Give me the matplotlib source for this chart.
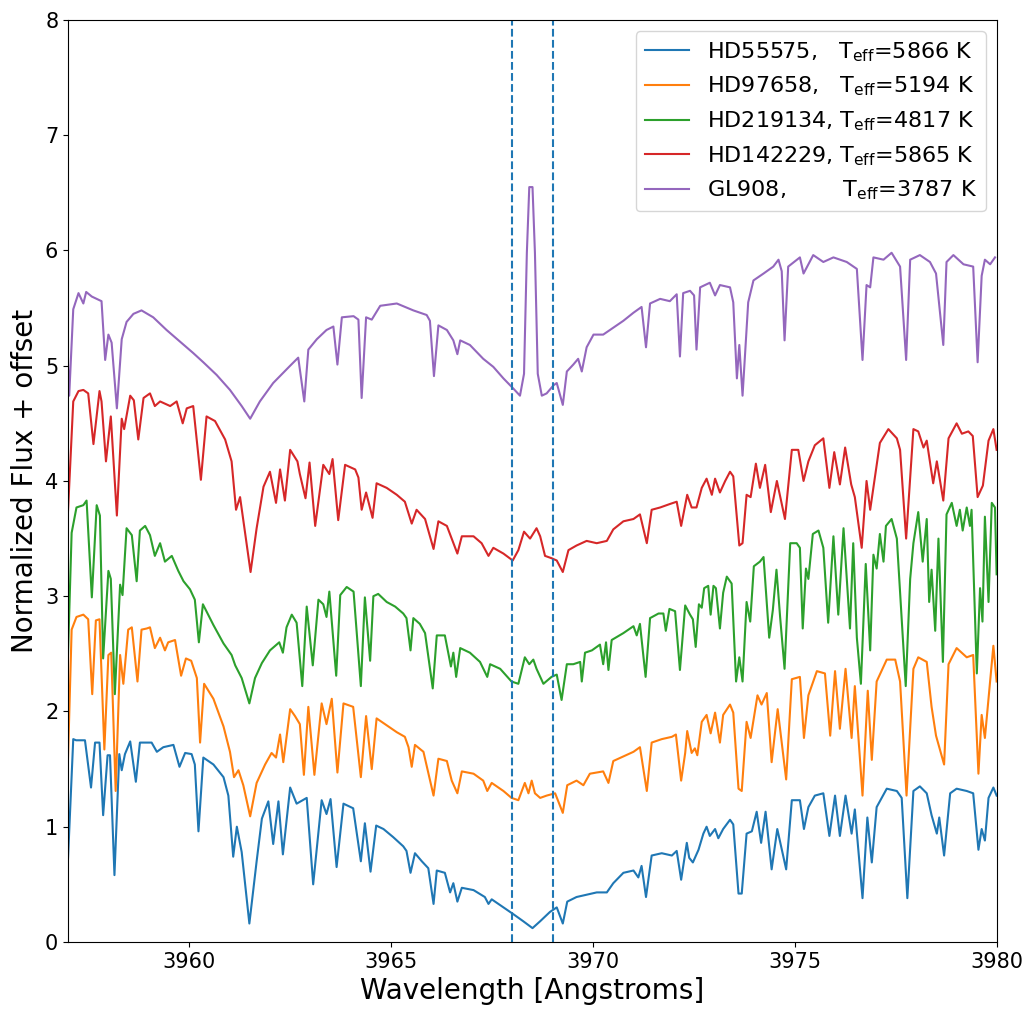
import matplotlib
matplotlib.use('Agg')
import matplotlib.pyplot as plt

# star names, temperatures and spacing used in the legend
stars = ['HD55575', 'HD97658', 'HD219134', 'HD142229', 'GL908']
teff = [5866, 5194, 4817, 5865, 3787]
pads = ['   ', '   ', ' ', ' ', '        ']

# Ca II H line region marked by the two dashed lines
line_marks = [3968.0, 3969.0]

# HD55575 (offset 0)
wl_hd55575 = [3956.98, 3957.13, 3957.2, 3957.42, 3957.57, 3957.67, 3957.78, 3957.87, 3957.98, 3958.04,
              3958.15, 3958.27, 3958.33, 3958.41, 3958.54, 3958.68, 3958.78, 3958.95, 3959.07, 3959.2,
              3959.36, 3959.61, 3959.76, 3959.9, 3960.06, 3960.14, 3960.23, 3960.35, 3960.6, 3960.85,
              3960.97, 3961.09, 3961.18, 3961.3, 3961.49, 3961.67, 3961.8, 3961.96, 3962.08, 3962.21,
              3962.32, 3962.5, 3962.66, 3962.91, 3963.07, 3963.28, 3963.4, 3963.5, 3963.65, 3963.82,
              3964.06, 3964.25, 3964.35, 3964.49, 3964.63, 3964.81, 3965.05, 3965.3, 3965.38, 3965.48,
              3965.59, 3965.76, 3965.92, 3966.05, 3966.13, 3966.33, 3966.46, 3966.54, 3966.64, 3966.75,
              3967.04, 3967.32, 3967.41, 3967.49, 3967.78, 3968.03, 3968.27, 3968.5, 3968.69, 3968.93,
              3969.1, 3969.25, 3969.36, 3969.59, 3969.84, 3970.09, 3970.34, 3970.5, 3970.75, 3971.0,
              3971.12, 3971.2, 3971.31, 3971.45, 3971.7, 3971.95, 3972.07, 3972.18, 3972.32, 3972.38,
              3972.47, 3972.61, 3972.73, 3972.81, 3972.89, 3973.02, 3973.1, 3973.22, 3973.39, 3973.47,
              3973.6, 3973.68, 3973.8, 3973.93, 3974.05, 3974.16, 3974.27, 3974.42, 3974.56, 3974.78,
              3974.92, 3975.12, 3975.22, 3975.33, 3975.49, 3975.7, 3975.85, 3975.99, 3976.11, 3976.25,
              3976.4, 3976.48, 3976.67, 3976.79, 3976.9, 3977.02, 3977.27, 3977.52, 3977.64, 3977.78,
              3977.93, 3978.09, 3978.26, 3978.38, 3978.51, 3978.57, 3978.69, 3978.84, 3979.0, 3979.25,
              3979.41, 3979.54, 3979.62, 3979.7, 3979.79, 3979.91, 3979.99]
fx_hd55575 = [0.56, 1.76, 1.75, 1.75, 1.34, 1.73, 1.73, 1.10, 1.62, 1.62,
              0.58, 1.63, 1.49, 1.63, 1.74, 1.39, 1.73, 1.73, 1.73, 1.65,
              1.69, 1.71, 1.52, 1.64, 1.63, 1.54, 0.96, 1.60, 1.54, 1.43,
              1.27, 0.74, 1.00, 0.78, 0.16, 0.70, 1.07, 1.22, 0.85, 1.22,
              0.76, 1.34, 1.20, 1.25, 0.50, 1.23, 1.11, 1.24, 0.65, 1.20,
              1.16, 0.70, 1.03, 0.61, 1.01, 0.98, 0.91, 0.83, 0.79, 0.60,
              0.77, 0.70, 0.64, 0.33, 0.62, 0.60, 0.43, 0.51, 0.35, 0.47,
              0.45, 0.39, 0.33, 0.37, 0.30, 0.24, 0.18, 0.12, 0.18, 0.26,
              0.30, 0.16, 0.35, 0.39, 0.41, 0.43, 0.43, 0.51, 0.60, 0.62,
              0.56, 0.66, 0.39, 0.75, 0.77, 0.75, 0.79, 0.54, 0.86, 0.73,
              0.69, 0.80, 0.94, 1.00, 0.92, 0.98, 0.90, 0.98, 1.06, 1.02,
              0.42, 0.42, 0.94, 0.96, 1.13, 0.86, 1.13, 0.63, 0.98, 0.63,
              1.23, 1.23, 0.98, 1.17, 1.27, 1.29, 0.92, 1.27, 0.92, 1.27,
              0.94, 1.15, 0.38, 1.08, 0.69, 1.17, 1.33, 1.31, 1.25, 0.38,
              1.31, 1.35, 1.29, 1.10, 0.94, 1.08, 0.75, 1.29, 1.33, 1.31,
              1.29, 0.80, 0.98, 0.88, 1.25, 1.34, 1.27]

# HD97658 (offset 1)
wl_hd97658 = [3956.98, 3957.09, 3957.21, 3957.38, 3957.5, 3957.6, 3957.69, 3957.78, 3957.9, 3958.0,
              3958.07, 3958.18, 3958.29, 3958.37, 3958.49, 3958.58, 3958.72, 3958.82, 3958.95, 3959.03,
              3959.15, 3959.28, 3959.4, 3959.48, 3959.65, 3959.8, 3959.92, 3960.05, 3960.19, 3960.27,
              3960.37, 3960.6, 3960.85, 3961.01, 3961.11, 3961.22, 3961.34, 3961.51, 3961.67, 3961.88,
              3962.04, 3962.15, 3962.25, 3962.33, 3962.5, 3962.62, 3962.74, 3962.84, 3962.95, 3963.1,
              3963.28, 3963.4, 3963.53, 3963.67, 3963.82, 3964.06, 3964.25, 3964.38, 3964.52, 3964.64,
              3964.89, 3965.14, 3965.34, 3965.43, 3965.51, 3965.59, 3965.8, 3966.05, 3966.17, 3966.38,
              3966.5, 3966.64, 3966.75, 3967.04, 3967.28, 3967.38, 3967.49, 3967.78, 3967.98, 3968.15,
              3968.31, 3968.4, 3968.48, 3968.56, 3968.69, 3968.85, 3969.06, 3969.25, 3969.36, 3969.59,
              3969.76, 3969.92, 3970.25, 3970.38, 3970.5, 3970.75, 3971.0, 3971.16, 3971.33, 3971.45,
              3971.7, 3971.95, 3972.05, 3972.18, 3972.28, 3972.33, 3972.44, 3972.52, 3972.58, 3972.69,
              3972.81, 3972.91, 3973.02, 3973.14, 3973.22, 3973.39, 3973.47, 3973.6, 3973.68, 3973.8,
              3973.9, 3974.07, 3974.17, 3974.3, 3974.42, 3974.57, 3974.78, 3974.92, 3975.12, 3975.22,
              3975.33, 3975.54, 3975.74, 3975.87, 3975.99, 3976.11, 3976.25, 3976.4, 3976.48, 3976.67,
              3976.8, 3976.9, 3977.02, 3977.27, 3977.48, 3977.6, 3977.76, 3977.93, 3978.05, 3978.26,
              3978.38, 3978.49, 3978.69, 3978.8, 3979.0, 3979.25, 3979.41, 3979.54, 3979.62, 3979.7,
              3979.91, 3979.99]
fx_hd97658 = [1.34, 2.71, 2.82, 2.84, 2.80, 2.15, 2.79, 2.80, 1.67, 2.49,
              2.51, 1.31, 2.49, 2.24, 2.71, 2.73, 2.26, 2.71, 2.72, 2.73,
              2.55, 2.64, 2.53, 2.60, 2.62, 2.31, 2.46, 2.44, 2.29, 1.73,
              2.24, 2.11, 1.87, 1.65, 1.43, 1.49, 1.36, 1.09, 1.38, 1.54,
              1.64, 1.60, 1.80, 1.56, 2.02, 1.96, 1.89, 1.45, 2.04, 1.45,
              2.07, 1.89, 2.11, 1.47, 2.07, 2.04, 1.43, 1.96, 1.50, 1.94,
              1.88, 1.82, 1.78, 1.69, 1.52, 1.71, 1.65, 1.27, 1.59, 1.57,
              1.40, 1.29, 1.48, 1.46, 1.40, 1.31, 1.38, 1.31, 1.25, 1.23,
              1.38, 1.29, 1.40, 1.29, 1.25, 1.27, 1.29, 1.12, 1.36, 1.40,
              1.36, 1.46, 1.48, 1.38, 1.57, 1.61, 1.65, 1.69, 1.31, 1.73,
              1.76, 1.78, 1.80, 1.40, 1.64, 1.83, 1.64, 1.68, 1.62, 1.91,
              1.97, 1.81, 1.99, 1.73, 1.97, 2.06, 1.99, 1.33, 1.31, 1.91,
              1.77, 2.14, 2.06, 2.16, 1.56, 2.02, 1.41, 2.28, 2.30, 1.77,
              2.14, 2.35, 2.33, 1.79, 2.35, 1.85, 2.37, 1.77, 2.22, 1.27,
              2.18, 1.58, 2.26, 2.45, 2.45, 2.26, 1.27, 2.37, 2.47, 2.43,
              2.04, 1.79, 1.54, 2.41, 2.55, 2.47, 2.49, 1.46, 1.97, 1.77,
              2.57, 2.26]

# HD219134 (offset 2)
wl_hd219134 = [3956.98, 3957.09, 3957.21, 3957.38, 3957.46, 3957.59, 3957.71, 3957.79, 3957.87, 3958.0,
               3958.06, 3958.16, 3958.29, 3958.35, 3958.45, 3958.58, 3958.7, 3958.78, 3958.91, 3959.03,
               3959.15, 3959.28, 3959.4, 3959.57, 3959.73, 3959.86, 3960.02, 3960.14, 3960.24, 3960.34,
               3960.6, 3960.85, 3961.05, 3961.14, 3961.3, 3961.49, 3961.63, 3961.8, 3962.0, 3962.23,
               3962.32, 3962.41, 3962.54, 3962.66, 3962.8, 3962.91, 3963.06, 3963.2, 3963.32, 3963.4,
               3963.47, 3963.64, 3963.74, 3963.9, 3964.07, 3964.25, 3964.35, 3964.48, 3964.56, 3964.68,
               3964.89, 3965.1, 3965.3, 3965.38, 3965.48, 3965.55, 3965.71, 3965.84, 3966.03, 3966.13,
               3966.33, 3966.48, 3966.54, 3966.61, 3966.71, 3966.95, 3967.2, 3967.38, 3967.45, 3967.7,
               3967.98, 3968.15, 3968.31, 3968.42, 3968.52, 3968.6, 3968.77, 3968.97, 3969.1, 3969.22,
               3969.35, 3969.51, 3969.68, 3969.72, 3969.8, 3969.97, 3970.17, 3970.25, 3970.32, 3970.38,
               3970.46, 3970.75, 3971.0, 3971.08, 3971.16, 3971.3, 3971.41, 3971.62, 3971.74, 3971.8,
               3971.89, 3972.03, 3972.15, 3972.28, 3972.4, 3972.47, 3972.54, 3972.62, 3972.69, 3972.75,
               3972.85, 3972.91, 3972.98, 3973.04, 3973.14, 3973.22, 3973.31, 3973.43, 3973.54, 3973.62,
               3973.7, 3973.8, 3973.89, 3973.98, 3974.13, 3974.22, 3974.36, 3974.45, 3974.54, 3974.63,
               3974.74, 3974.88, 3975.04, 3975.12, 3975.19, 3975.27, 3975.33, 3975.44, 3975.58, 3975.7,
               3975.82, 3975.95, 3976.07, 3976.2, 3976.36, 3976.44, 3976.53, 3976.63, 3976.75, 3976.86,
               3976.94, 3977.02, 3977.1, 3977.19, 3977.25, 3977.39, 3977.52, 3977.74, 3977.85, 3977.93,
               3978.05, 3978.16, 3978.26, 3978.32, 3978.38, 3978.47, 3978.55, 3978.66, 3978.75, 3978.88,
               3979.0, 3979.08, 3979.15, 3979.25, 3979.33, 3979.37, 3979.5, 3979.58, 3979.64, 3979.7,
               3979.79, 3979.87, 3979.95, 3979.99]
fx_hd219134 = [2.26, 3.55, 3.77, 3.79, 3.83, 2.99, 3.79, 3.70, 2.46, 3.22,
               3.15, 2.15, 3.10, 3.01, 3.59, 3.53, 3.13, 3.57, 3.61, 3.53,
               3.35, 3.46, 3.30, 3.35, 3.22, 3.13, 3.06, 2.97, 2.60, 2.93,
               2.75, 2.59, 2.49, 2.40, 2.29, 2.07, 2.29, 2.42, 2.53, 2.60,
               2.51, 2.73, 2.84, 2.77, 2.22, 2.91, 2.40, 2.97, 2.93, 2.82,
               3.04, 2.31, 3.01, 3.08, 3.04, 2.22, 2.99, 2.44, 3.00, 3.02,
               2.95, 2.91, 2.85, 2.81, 2.53, 2.81, 2.76, 2.68, 2.20, 2.66,
               2.66, 2.39, 2.51, 2.30, 2.55, 2.51, 2.43, 2.30, 2.41, 2.37,
               2.26, 2.24, 2.47, 2.41, 2.45, 2.37, 2.24, 2.30, 2.32, 2.10,
               2.41, 2.41, 2.43, 2.26, 2.51, 2.53, 2.58, 2.41, 2.60, 2.36,
               2.62, 2.68, 2.74, 2.66, 2.76, 2.30, 2.81, 2.85, 2.85, 2.70,
               2.89, 2.87, 2.36, 2.92, 2.84, 2.80, 2.56, 2.93, 2.90, 3.07,
               3.09, 2.84, 3.09, 3.07, 2.72, 3.03, 3.17, 3.11, 2.26, 2.47,
               2.26, 2.95, 2.78, 3.26, 3.30, 3.34, 2.64, 2.88, 3.23, 2.82,
               2.37, 3.46, 3.46, 3.42, 2.72, 3.24, 3.15, 3.54, 3.57, 3.42,
               2.77, 3.52, 2.84, 3.59, 2.72, 3.46, 2.64, 2.24, 3.28, 2.53,
               3.36, 3.24, 3.54, 3.30, 3.61, 3.67, 3.50, 2.22, 3.15, 3.46,
               3.73, 3.30, 3.67, 2.95, 3.23, 2.70, 3.50, 2.43, 3.71, 3.81,
               3.61, 3.75, 3.57, 3.77, 3.61, 3.75, 2.33, 3.07, 2.78, 3.69,
               2.95, 3.81, 3.77, 3.19]

# HD142229 (offset 3)
wl_hd142229 = [3956.98, 3957.13, 3957.26, 3957.38, 3957.5, 3957.63, 3957.78, 3957.83, 3957.94, 3958.06,
               3958.21, 3958.33, 3958.39, 3958.54, 3958.63, 3958.74, 3958.87, 3959.03, 3959.15, 3959.28,
               3959.53, 3959.69, 3959.84, 3959.94, 3960.1, 3960.29, 3960.43, 3960.64, 3960.89, 3961.05,
               3961.16, 3961.26, 3961.52, 3961.67, 3961.84, 3962.0, 3962.15, 3962.25, 3962.37, 3962.5,
               3962.68, 3962.74, 3962.88, 3962.98, 3963.12, 3963.32, 3963.47, 3963.55, 3963.69, 3963.86,
               3964.11, 3964.19, 3964.27, 3964.38, 3964.54, 3964.64, 3964.89, 3965.14, 3965.34, 3965.51,
               3965.63, 3965.84, 3966.05, 3966.17, 3966.38, 3966.64, 3966.75, 3967.04, 3967.24, 3967.41,
               3967.53, 3967.78, 3968.01, 3968.15, 3968.29, 3968.44, 3968.6, 3968.69, 3968.81, 3968.97,
               3969.1, 3969.25, 3969.39, 3969.59, 3969.84, 3970.09, 3970.34, 3970.5, 3970.75, 3971.0,
               3971.16, 3971.33, 3971.45, 3971.66, 3971.9, 3972.07, 3972.18, 3972.33, 3972.44, 3972.56,
               3972.69, 3972.81, 3972.94, 3973.02, 3973.14, 3973.27, 3973.39, 3973.47, 3973.62, 3973.7,
               3973.8, 3973.9, 3974.03, 3974.13, 3974.26, 3974.4, 3974.55, 3974.75, 3974.92, 3975.08,
               3975.21, 3975.33, 3975.49, 3975.7, 3975.85, 3975.97, 3976.11, 3976.24, 3976.39, 3976.48,
               3976.65, 3976.77, 3976.86, 3976.98, 3977.1, 3977.31, 3977.52, 3977.6, 3977.75, 3977.93,
               3978.05, 3978.18, 3978.26, 3978.42, 3978.51, 3978.67, 3978.8, 3979.0, 3979.13, 3979.29,
               3979.4, 3979.52, 3979.65, 3979.79, 3979.91, 3979.99]
fx_hd142229 = [3.59, 4.69, 4.78, 4.79, 4.76, 4.32, 4.78, 4.69, 4.17, 4.56,
               3.70, 4.54, 4.45, 4.74, 4.70, 4.36, 4.72, 4.76, 4.65, 4.69,
               4.65, 4.69, 4.50, 4.63, 4.65, 4.01, 4.56, 4.52, 4.36, 4.17,
               3.75, 3.86, 3.21, 3.59, 3.95, 4.08, 3.81, 4.10, 3.83, 4.27,
               4.17, 4.06, 3.85, 4.16, 3.61, 4.14, 4.06, 4.19, 3.66, 4.14,
               4.10, 4.03, 3.75, 3.90, 3.68, 3.98, 3.94, 3.88, 3.82, 3.63,
               3.75, 3.67, 3.41, 3.65, 3.61, 3.37, 3.52, 3.52, 3.46, 3.35,
               3.42, 3.37, 3.31, 3.40, 3.56, 3.50, 3.59, 3.52, 3.35, 3.33,
               3.31, 3.21, 3.40, 3.44, 3.48, 3.46, 3.48, 3.58, 3.65, 3.67,
               3.71, 3.46, 3.75, 3.77, 3.80, 3.82, 3.61, 3.88, 3.77, 3.77,
               3.94, 4.02, 3.88, 4.02, 3.90, 4.00, 4.08, 4.04, 3.44, 3.46,
               3.88, 3.86, 4.15, 3.94, 4.14, 3.73, 4.00, 3.67, 4.27, 4.27,
               4.00, 4.17, 4.31, 4.37, 3.94, 4.25, 3.97, 4.29, 3.97, 3.86,
               3.42, 4.00, 3.75, 4.04, 4.33, 4.45, 4.37, 4.27, 3.50, 4.45,
               4.43, 4.29, 4.35, 3.98, 4.17, 3.83, 4.37, 4.50, 4.41, 4.43,
               4.39, 3.86, 3.96, 4.35, 4.45, 4.27]

# GL908 (offset 4), emission core near 3968.5
wl_gl908 = [3956.98, 3957.03, 3957.13, 3957.26, 3957.38, 3957.45, 3957.59, 3957.71, 3957.83, 3957.92,
            3958.0, 3958.08, 3958.21, 3958.33, 3958.45, 3958.62, 3958.82, 3959.11, 3959.44, 3959.77,
            3960.1, 3960.35, 3960.68, 3961.01, 3961.3, 3961.51, 3961.75, 3962.08, 3962.5, 3962.7,
            3962.85, 3962.95, 3963.16, 3963.4, 3963.57, 3963.67, 3963.78, 3964.07, 3964.19, 3964.27,
            3964.38, 3964.52, 3964.73, 3965.14, 3965.55, 3965.88, 3965.96, 3966.06, 3966.17, 3966.38,
            3966.54, 3966.64, 3966.71, 3966.95, 3967.28, 3967.53, 3967.78, 3968.03, 3968.19, 3968.29,
            3968.36, 3968.42, 3968.5, 3968.56, 3968.63, 3968.73, 3968.85, 3969.02, 3969.1, 3969.25,
            3969.35, 3969.51, 3969.63, 3969.72, 3969.84, 3970.01, 3970.25, 3970.5, 3970.75, 3971.0,
            3971.2, 3971.31, 3971.41, 3971.66, 3971.9, 3972.07, 3972.15, 3972.23, 3972.4, 3972.5,
            3972.56, 3972.65, 3972.89, 3973.02, 3973.14, 3973.39, 3973.47, 3973.56, 3973.62, 3973.7,
            3973.84, 3973.97, 3974.22, 3974.46, 3974.59, 3974.67, 3974.74, 3974.83, 3975.12, 3975.21,
            3975.45, 3975.7, 3975.95, 3976.28, 3976.53, 3976.67, 3976.77, 3976.86, 3976.94, 3977.19,
            3977.39, 3977.6, 3977.75, 3977.85, 3978.09, 3978.34, 3978.49, 3978.67, 3978.75, 3978.92,
            3979.17, 3979.41, 3979.52, 3979.62, 3979.7, 3979.83, 3979.95]
fx_gl908 = [5.20, 4.74, 5.49, 5.63, 5.54, 5.64, 5.60, 5.58, 5.56, 5.05,
            5.27, 5.20, 4.63, 5.23, 5.38, 5.45, 5.48, 5.42, 5.31, 5.21,
            5.11, 5.03, 4.92, 4.79, 4.65, 4.54, 4.69, 4.85, 5.00, 5.07,
            4.69, 5.14, 5.23, 5.31, 5.34, 5.01, 5.42, 5.43, 5.40, 4.72,
            5.42, 5.40, 5.52, 5.54, 5.48, 5.44, 5.39, 4.91, 5.35, 5.31,
            5.22, 5.10, 5.22, 5.18, 5.06, 4.99, 4.89, 4.80, 4.74, 4.93,
            5.98, 6.55, 6.55, 5.98, 4.93, 4.74, 4.76, 4.83, 4.85, 4.66,
            4.95, 5.01, 5.06, 4.95, 5.16, 5.27, 5.27, 5.33, 5.39, 5.46,
            5.51, 5.16, 5.54, 5.58, 5.56, 5.62, 5.08, 5.63, 5.65, 5.61,
            5.14, 5.68, 5.72, 5.61, 5.70, 5.68, 5.55, 4.89, 5.18, 4.74,
            5.55, 5.74, 5.80, 5.86, 5.92, 5.82, 5.22, 5.86, 5.94, 5.80,
            5.96, 5.90, 5.94, 5.90, 5.84, 5.05, 5.70, 5.68, 5.94, 5.92,
            5.98, 5.86, 5.05, 5.92, 5.96, 5.90, 5.80, 5.18, 5.90, 5.96,
            5.88, 5.86, 5.03, 5.78, 5.92, 5.88, 5.94]

if __name__ == '__main__':
    spectra = [(wl_hd55575, fx_hd55575), (wl_hd97658, fx_hd97658), (wl_hd219134, fx_hd219134),
               (wl_hd142229, fx_hd142229), (wl_gl908, fx_gl908)]
    colors = ['tab:blue', 'tab:orange', 'tab:green', 'tab:red', 'tab:purple']

    fig = plt.figure(figsize=(10.35, 10.19), dpi=100)
    ax = fig.add_axes([0.0657, 0.0756, 0.8976, 0.9048])

    for (wl, fx), name, t, pad, c in zip(spectra, stars, teff, pads, colors):
        label = name + ',' + pad + r'T$_{\mathrm{eff}}$=' + str(t) + ' K'
        ax.plot(wl, fx, color=c, lw=1.5, label=label)

    for w in line_marks:
        ax.axvline(w, color='tab:blue', ls='--', lw=1.5)

    ax.set_xlim(3957, 3980)
    ax.set_ylim(0, 8)
    ax.set_xticks([3960, 3965, 3970, 3975, 3980])
    ax.tick_params(labelsize=15)
    ax.set_xlabel('Wavelength [Angstroms]', fontsize=20)
    ax.set_ylabel('Normalized Flux + offset', fontsize=20)
    ax.legend(loc='upper right', fontsize=16)

    fig.savefig('out.png', dpi=100)
